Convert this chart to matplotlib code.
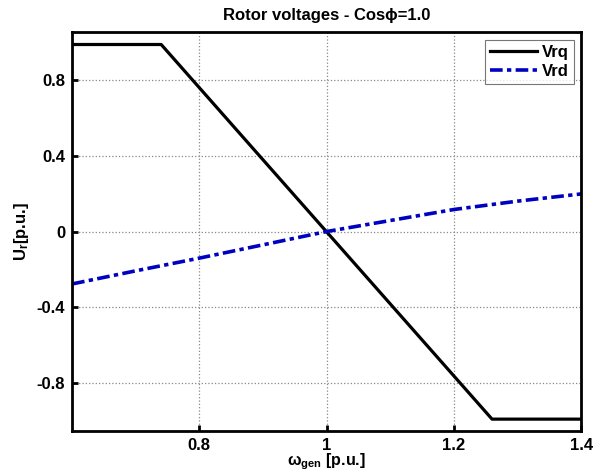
import matplotlib.pyplot as plt

plt.rcParams['font.family'] = ['Liberation Sans', 'DejaVu Sans']
plt.rcParams['font.weight'] = 'bold'
plt.rcParams['mathtext.default'] = 'regular'

# data
w_vrq = [0.6, 0.74, 1.26, 1.4]
vrq = [0.985, 0.985, -0.988, -0.988]

w_vrd = [0.6, 0.7, 0.8, 0.9, 1.0, 1.1, 1.2, 1.3, 1.4]
vrd = [-0.276, -0.207, -0.140, -0.070, 0.0, 0.058, 0.116, 0.160, 0.198]

fig = plt.figure(figsize=(5.96, 4.73), dpi=100)
ax = fig.add_axes([0.121, 0.089, 0.854, 0.843])

ax.plot(w_vrq, vrq, color='black', lw=2.3, label='Vrq')
ax.plot(w_vrd, vrd, color='#0000c0', lw=2.6, ls='-.', dashes=(3.5, 1.2, 1.2, 1.2), label='Vrd')

ax.set_xlim(0.6, 1.4)
ax.set_ylim(-1.05, 1.05)
ax.set_xticks([0.8, 1, 1.2, 1.4])
ax.set_xticklabels(['0.8', '1', '1.2', '1.4'])
ax.set_yticks([-0.8, -0.4, 0, 0.4, 0.8])
ax.set_yticklabels(['-0.8', '-0.4', '0', '0.4', '0.8'])
ax.tick_params(direction='in', length=4, width=2, labelsize=12, pad=5)
for s in ax.spines.values():
    s.set_linewidth(2)

ax.grid(True, color='#888888', ls=':', lw=0.9)

ax.set_title('Rotor voltages - Cos\u03d5=1.0', fontsize=12, fontweight='bold', pad=9)
ax.set_xlabel('\u03c9$_{gen}$ [p.u.]', fontsize=11.5, fontweight='bold', labelpad=-1)
ax.set_ylabel('U$_{r}$[p.u.]', fontsize=12, fontweight='bold', labelpad=4)

leg = ax.legend(loc='upper right', fontsize=12, frameon=True, fancybox=False,
                handlelength=2.8, borderaxespad=0.45, borderpad=0.3, labelspacing=0.25,
                handletextpad=0.3)
leg.get_frame().set_edgecolor('#555555')
leg.get_frame().set_linewidth(0.8)

fig.savefig('out.png', dpi=100)
